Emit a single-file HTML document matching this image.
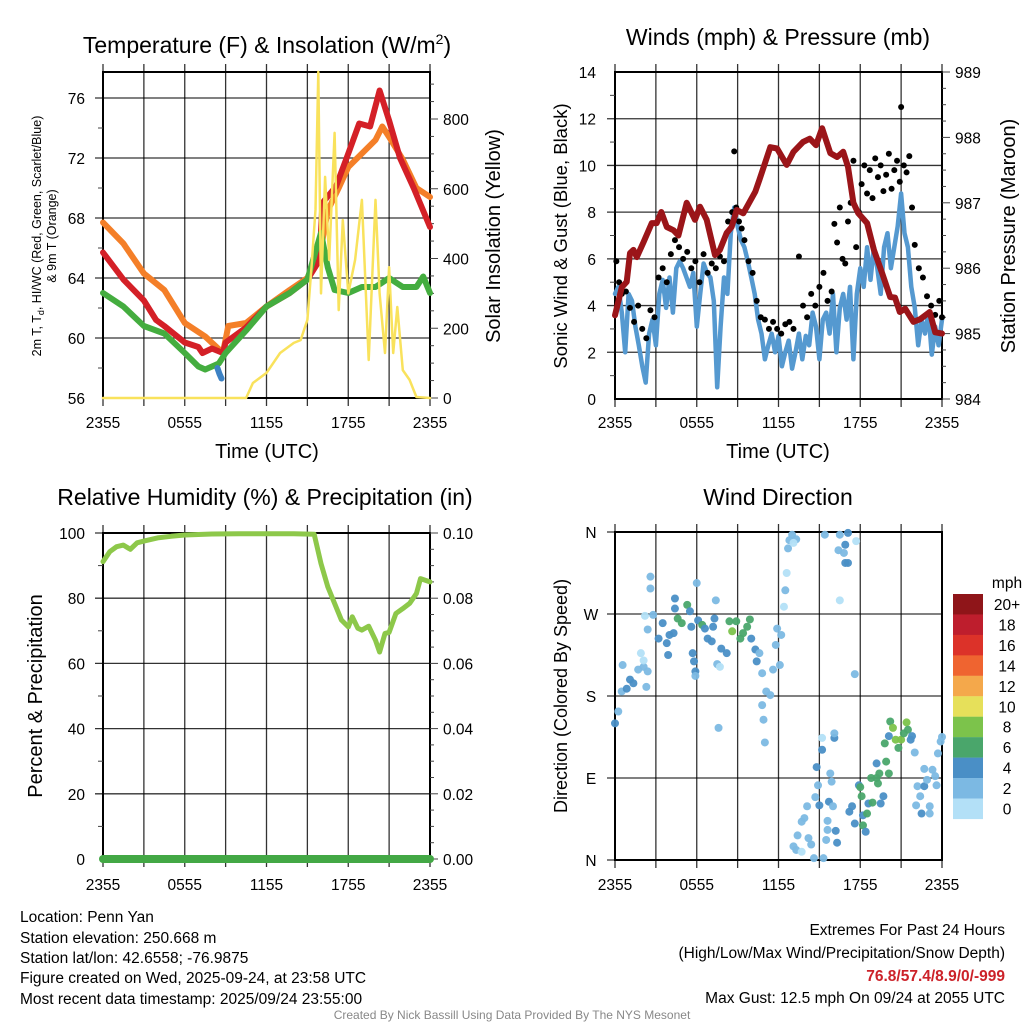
<!DOCTYPE html>
<html><head><meta charset="utf-8"><style>
html,body{margin:0;padding:0;background:#fff}
svg{display:block;font-family:"Liberation Sans",Arial,sans-serif}
</style></head><body>
<svg id="fig" width="1024" height="1024" viewBox="0 0 1024 1024" xmlns="http://www.w3.org/2000/svg">
<g id="layer"></g>
<text x="267" y="53" font-size="23" text-anchor="middle">Temperature (F) &amp; Insolation (W/m<tspan font-size="14" dy="-9">2</tspan><tspan dy="9">)</tspan></text>
<text x="778" y="45" font-size="23" text-anchor="middle">Winds (mph) &amp; Pressure (mb)</text>
<text x="265" y="505" font-size="23" text-anchor="middle">Relative Humidity (%) &amp; Precipitation (in)</text>
<text x="778" y="505" font-size="23" text-anchor="middle">Wind Direction</text>
<g font-size="12.5" text-anchor="middle">
<text transform="translate(41,236) rotate(-90)">2m T, T<tspan font-size="9" dy="3">d</tspan><tspan dy="-3">, HI/WC (Red, Green, Scarlet/Blue)</tspan></text>
<text transform="translate(56,236) rotate(-90)">&amp; 9m T (Orange)</text>
</g>
<text transform="translate(500,236) rotate(-90)" font-size="20" text-anchor="middle">Solar Insolation (Yellow)</text>
<text transform="translate(567,236) rotate(-90)" font-size="18.5" text-anchor="middle">Sonic Wind &amp; Gust (Blue, Black)</text>
<text transform="translate(1015,236) rotate(-90)" font-size="20" text-anchor="middle">Station Pressure (Maroon)</text>
<text transform="translate(42,696) rotate(-90)" font-size="20" text-anchor="middle">Percent &amp; Precipitation</text>
<text transform="translate(567,696) rotate(-90)" font-size="18" text-anchor="middle">Direction (Colored By Speed)</text>
<text x="267" y="458" font-size="20" text-anchor="middle">Time (UTC)</text>
<text x="778" y="458" font-size="20" text-anchor="middle">Time (UTC)</text>
<g font-size="15.5">
<text x="20" y="922">Location: Penn Yan</text>
<text x="20" y="943">Station elevation: 250.668 m</text>
<text x="20" y="963">Station lat/lon: 42.6558; -76.9875</text>
<text x="20" y="983">Figure created on Wed, 2025-09-24, at 23:58 UTC</text>
<text x="20" y="1004">Most recent data timestamp: 2025/09/24 23:55:00</text>
</g>
<g font-size="15.5" text-anchor="end">
<text x="1005" y="935">Extremes For Past 24 Hours</text>
<text x="1005" y="958">(High/Low/Max Wind/Precipitation/Snow Depth)</text>
<text x="1005" y="981" fill="#cc2229" font-weight="bold">76.8/57.4/8.9/0/-999</text>
<text x="1005" y="1003">Max Gust: 12.5 mph On 09/24 at 2055 UTC</text>
</g>
<text x="512" y="1019" font-size="12" fill="#888" text-anchor="middle">Created By Nick Bassill Using Data Provided By The NYS Mesonet</text>
</svg>
<script>
// ---- data ----
const xTickLabels = ["2355","0555","1155","1755","2355"];
const tempT = [0,1.5,3,3.9,4.5,6,7,7.3,8,8.8,9,10.5,12,13.7,15,15.9,16.1,17.1,18,18.8,19.6,20.3,21,21.8,22.8,24];
const tempV = [65.7,63.9,62.5,61.2,60.8,59.7,59.4,59,59.3,59,59.7,60.7,62.1,63,63.9,65.2,69,70.1,72.3,74.3,74.1,76.5,74.5,72,70,67.4];
const t9T = [0,1.5,3,4.5,6,7.5,8.8,9.2,10.5,12,13.7,15,16,16.5,17.3,18,19,20,20.5,21,22,23,24];
const t9V = [67.7,66.3,64.3,63.2,61,60.1,59,60.8,61,62.1,63.2,64,66,68.5,70,71.4,72.3,73.2,74.1,73.4,71.9,70,69.4];
const tdT = [0,1.5,3,4.5,6,7,7.5,8.5,9,10.5,12,13.7,15,16,16.5,17,18,19,20,21,22,23,23.5,24];
const tdV = [63,62.1,60.8,60.3,59,58.1,57.9,58.3,59,60.5,62.1,63,63.9,67,64.7,63.2,63,63.4,63.4,64,63.4,63.4,64.1,63];
const wcT = [8.4,8.55,8.7];
const wcV = [58,57.6,57.3];
const solT = [0,10.5,11,12,13,14,14.5,15,15.3,15.6,15.8,16,16.3,16.6,17,17.3,17.6,18,18.5,19,19.5,20,20.3,20.7,21,21.3,21.6,22,22.5,23,24];
const solV = [0,0,43,72,129,158,166,224,375,540,935,300,634,396,760,252,510,300,396,568,109,568,300,129,375,129,261,80,52,3,0];
const tempTicks = [56,60,64,68,72,76];
const solTicks = [0,200,400,600,800];
const presT = [0,0.5,0.86,1.1,1.35,1.6,2.1,2.7,3.06,3.4,3.8,4.3,4.65,5.26,5.87,6.24,6.73,7.34,7.7,8.2,8.56,8.93,9.42,10.3,10.6,11.4,11.9,12.6,13.1,13.8,14.3,14.75,15.2,15.8,16.3,16.75,17.1,17.5,17.86,18.5,19,19.6,20.2,20.55,20.9,21.3,21.9,22.4,23.1,23.5,24];
const presV = [985.28,985.71,985.79,986.23,986.28,986.17,986.4,986.69,986.69,986.86,986.63,986.58,986.5,987.0,986.74,986.94,986.74,986.2,986.28,986.54,986.63,986.89,986.84,987.17,987.35,987.85,987.83,987.58,987.78,987.93,987.98,987.88,988.14,987.76,987.7,987.78,987.55,987.0,986.84,986.69,986.28,985.93,985.56,985.55,985.33,985.38,985.18,985.22,985.33,985.02,985.0];
const windV = [4.5,4.8,3.7,2.0,4.5,4.2,3.1,2.3,1.4,0.7,2.8,3.4,2.3,4.5,5.1,3.9,5.2,3.7,5.6,5.9,5.6,5.2,4.8,5.4,3.1,4.5,5.8,5.4,5.2,4.2,0.5,3.1,5.2,4.5,7.1,8.2,7.4,6.8,6.5,5.9,5.2,4.5,3.4,2.8,1.7,2.3,2.8,2.0,2.7,1.4,2.0,2.5,1.3,2.0,2.8,1.7,2.7,2.3,3.7,3.1,1.7,3.4,3.7,2.8,4.5,2.0,3.9,4.5,3.4,4.8,1.7,4.5,5.6,4.8,6.5,5.1,6.5,5.6,4.5,6.5,7.1,5.6,6.5,7.4,8.8,7.1,6.5,4.8,3.9,2.3,3.4,2.8,3.7,1.9,3.1,2.3,3.4];
const gustT = [0.1,0.3,0.5,0.8,1.1,1.4,1.7,2.0,2.3,2.6,2.9,3.2,3.5,3.8,4.1,4.4,4.7,5.0,5.3,5.6,5.9,6.2,6.5,6.8,7.1,7.4,7.7,8.0,8.3,8.6,8.75,8.9,9.1,9.3,9.5,9.8,10.1,10.4,10.7,11.0,11.3,11.6,11.9,12.2,12.5,12.8,13.1,13.5,13.8,14.1,14.4,14.7,15.0,15.3,15.6,15.9,16.1,16.3,16.5,16.7,16.9,17.1,17.3,17.5,17.7,17.9,18.1,18.3,18.5,18.7,18.9,19.1,19.3,19.5,19.7,19.9,20.1,20.3,20.5,20.7,20.9,21.0,21.2,21.4,21.6,21.8,22.0,22.3,22.6,22.9,23.2,23.5,23.8,24.0];
const gustV = [5.9,5.0,4.5,4.6,3.9,3.3,4.0,3.0,2.6,3.8,3.5,5.2,5.6,5.0,6.2,6.8,6.5,6.0,6.3,5.6,5.9,5.0,6.2,5.4,5.8,5.6,6.1,5.9,7.6,8.0,10.6,8.2,7.6,7.3,6.8,5.9,5.4,4.2,3.5,3.4,3.0,3.3,3.0,2.8,3.2,3.3,3.0,6.1,4.0,3.5,4.5,4.0,4.8,5.4,4.2,4.6,7.5,6.7,8.2,6.0,5.8,7.6,8.4,10.2,6.5,8.0,9.2,10.0,8.8,9.8,8.6,10.3,9.5,10.0,8.9,9.6,10.5,9.0,9.8,10.2,9.3,12.5,10.0,9.7,10.4,8.2,6.6,5.6,5.2,4.4,4.0,3.6,4.2,3.5];
const windTicks = [0,2,4,6,8,10,12,14];
const presTicks = [984,985,986,987,988,989];
const rhT = [0,0.5,1,1.5,2,2.5,3,4,5,6,8,10,12,14,15.5,16,16.5,17,17.5,18,18.3,18.7,19,19.5,20,20.3,20.7,21,21.5,22,22.5,23,23.3,24];
const rhV = [91.2,94.3,95.8,96.3,95,97,97.5,98.5,99,99.4,99.7,99.8,99.8,99.8,99.6,90.6,83.5,78.4,73.3,71.2,74.3,70.8,70.2,71.4,67.1,63.5,69.2,69.5,75.3,76.8,78.4,81.4,86,85];
const precipT = [0,24];
const precipV = [0,0];
const rhTicks = [0,20,40,60,80,100];
const precipTicks = ["0.00","0.02","0.04","0.06","0.08","0.10"];
const dirT = [0,0.24,0.49,0.86,1.1,1.35,0.56,1.7,2.1,1.9,2.1,2.3,2.4,2.6,2.6,2.2,2.4,2.8,3.2,3.5,3.8,3.9,4.0,4.3,4.4,4.4,4.6,4.9,5.3,5.5,5.6,5.7,5.8,5.9,5.9,6.0,6.1,6.4,6.6,6.8,7.1,7.2,7.3,7.4,7.5,7.7,7.6,7.8,8.2,8.4,8.6,8.9,9.2,9.4,9.7,9.9,10.0,10.3,10.4,10.6,10.8,10.8,11.1,11.4,10.9,11.0,11.6,12.1,11.9,12.2,11.8,12.4,12.5,12.6,12.7,12.8,13.0,13.3,13.1,15.4,16.5,17.1,17.7,16.4,16.8,16.9,16.9,17.1,16.5,17.6,13.1,13.3,13.7,13.4,13.7,13.9,14.1,14.2,14.4,14.6,14.7,14.8,14.9,15.0,15.2,15.2,15.3,15.5,15.6,15.6,15.7,15.8,15.9,16.0,16.1,16.1,16.2,16.3,17.2,17.4,17.6,17.9,18.0,18.1,18.2,18.2,18.4,18.5,18.6,18.9,18.8,19.2,19.3,19.2,19.4,19.5,19.7,19.8,19.9,20.1,20.1,20.2,20.4,20.6,20.8,21.0,21.2,21.4,21.5,21.7,21.8,22.0,22.1,22.4,22.2,22.5,22.7,22.7,22.9,23.1,23.1,23.3,23.5,23.6,23.7,23.9,24.0];
const dirD = [150,163,185,188,198,194,214,209,212,227,219,190,207,311,298,268,253,269,243,260,238,225,247,249,287,276,265,260,280,273,256,227,218,207,202,304,263,258,254,243,240,256,265,285,215,212,145,232,227,262,251,262,243,249,256,264,243,231,218,227,205,170,185,181,154,129,209,214,254,247,236,278,296,315,342,351,357,352,348,357,357,359,350,340,337,346,326,326,285,204,15,11,9,27,42,46,59,24,17,2,69,102,82,60,121,134,2,22,33,43,64,95,86,59,134,139,32,19,53,59,40,82,80,70,38,49,31,51,62,63,90,90,84,106,95,62,70,128,108,95,136,152,145,132,123,132,139,151,143,132,136,118,60,70,81,51,81,100,88,59,51,99,92,82,117,130,135];
const dirS = [4,2,2,4,4,4,2,2,2,0,0,2,2,2,2,0,2,2,4,4,4,4,4,4,4,4,6,6,6,4,4,4,4,4,2,2,4,6,4,4,4,4,4,2,2,0,2,4,4,6,8,6,6,6,6,6,4,4,4,2,2,2,2,2,2,2,2,2,2,2,2,0,2,0,2,2,2,2,0,2,2,4,0,2,2,4,4,4,0,2,2,2,0,2,2,2,2,2,2,2,2,4,2,4,4,0,2,2,2,2,4,2,2,2,4,2,4,4,4,4,4,4,6,6,6,4,4,6,4,6,6,6,6,4,6,4,4,6,6,6,4,6,8,8,6,8,6,8,6,4,4,2,2,2,2,4,4,2,2,2,2,2,2,2,2,2,2];
const dirLabels = ["N","E","S","W","N"];
const cbLabels = ["20+","18","16","14","12","10","8","6","4","2","0"];
const cbColors = ["#8f1519","#be1e2d","#dc3229","#ef6430","#f4a84b","#e6e05a","#7cc34b","#4aa66b","#4a8fc6","#7cb9e3","#b3e0f7"];

// ---- drawing ----
const NS = "http://www.w3.org/2000/svg";
const layer = document.getElementById('layer');
function mk(tag, attrs, parent){ const e=document.createElementNS(NS,tag); for(const k in attrs) e.setAttribute(k,attrs[k]); (parent||layer).appendChild(e); return e; }
function panel(L,R,T,B){ return {L,R,T,B,x:t=>L+t*(R-L)/24}; }
function lin(d0,d1,p0,p1){ return v=>p0+(v-d0)*(p1-p0)/(d1-d0); }
function pathD(ts,vs,X,Y){ return ts.map((t,i)=>(i?'L':'M')+X(t).toFixed(1)+' '+Y(vs[i]).toFixed(1)).join(' '); }
function grid(p, hYs, name){
  const g=mk('g',{stroke:'#000','stroke-width':1.3,'stroke-opacity':0.8});
  
  
  for(let i=0;i<=8;i++){ const x=p.x(i*3); mk('line',{x1:x,x2:x,y1:p.T-8,y2:p.B+8},g); }
  hYs.forEach(y=>mk('line',{x1:p.L-8,x2:p.R,y1:y,y2:y},g));
  const fr=mk('rect',{x:p.L,y:p.T,width:p.R-p.L,height:p.B-p.T,fill:'none',stroke:'#000','stroke-width':2});
  
  
}
function xLabels(p,y,name){
  xTickLabels.forEach((s,i)=>{ const e=mk('text',{x:p.x(i*6),y:y,'font-size':15.5,'text-anchor':'middle'}); e.textContent=s;
    
     });
}
function minorTicks(x0,dir,ys,len){ ys.forEach(y=>mk('line',{x1:x0,x2:x0+dir*len,y1:y,y2:y,stroke:'#444','stroke-width':1})); }
function line(ts,vs,X,Y,color,w,name){
  const e=mk('path',{d:pathD(ts,vs,X,Y),fill:'none',stroke:color,'stroke-width':w,'stroke-linejoin':'round','stroke-linecap':'round'});
  
  
  return e;
}

// Panel 1
const p1=panel(103,430,72,398);
const yT=lin(56,76,398,98), yS=lin(0,800,398,119);
grid(p1, tempTicks.slice(1).map(yT), 'temperature');
for(let v=58;v<78;v+=4) minorTicks(p1.L,-1,[yT(v)],5);
for(let v=0;v<=900;v+=50) minorTicks(p1.R,1,[yS(v)], v%200===0?8:4);
tempTicks.forEach(v=>{ const e=mk('text',{x:85,y:yT(v)+6,'font-size':15.5,'text-anchor':'end'}); e.textContent=v;
    });
solTicks.forEach(v=>{ const e=mk('text',{x:443,y:yS(v)+6,'font-size':15.5}); e.textContent=v;
    });
line(t9T,t9V,p1.x,yT,'#f47f28',6,'orange-9m-temp-line');
line(tempT,tempV,p1.x,yT,'#d42027',6,'red-2m-temp-line');
line(tdT,tdV,p1.x,yT,'#44ad3f',6,'green-dewpoint-line');
line(wcT,wcV,p1.x,yT,'#3d82c4',6,'blue-windchill-line');
line(solT,solV,p1.x,yS,'#f9e25c',2.5,'yellow-insolation-line');
xLabels(p1,428,'temperature');

// Panel 2
const p2=panel(615,942,72,399);
const yW=lin(0,14,399,72), yP=lin(984,989,399,72);
grid(p2, windTicks.slice(1,-1).map(yW), 'winds');
for(let v=1;v<14;v+=2) minorTicks(p2.L,-1,[yW(v)],5);
for(let v=984;v<=989.001;v+=0.25) minorTicks(p2.R,1,[yP(v)], Math.abs(v-Math.round(v))<0.01?8:4);
windTicks.forEach(v=>{ const e=mk('text',{x:596,y:yW(v)+6,'font-size':15.5,'text-anchor':'end'}); e.textContent=v;
    });
presTicks.forEach(v=>{ const e=mk('text',{x:955,y:yP(v)+6,'font-size':15.5}); e.textContent=v;
    });
const windT = windV.map((v,i)=>i*0.25);
line(windT,windV,p2.x,yW,'#5599d0',4.5,'sonic-wind-line');
gustT.forEach((t,i)=>{ const c=mk('circle',{cx:p2.x(t),cy:yW(gustV[i]),r:3,fill:'#000'});
    });
line(presT,presV,p2.x,yP,'#9b1519',6,'pressure-line');
xLabels(p2,428,'winds');

// Panel 3
const p3=panel(103,430,533,859);
const yR=lin(0,100,859,533), yPr=lin(0,0.1,859,533);
grid(p3, rhTicks.slice(1).map(yR), 'humidity');
for(let v=10;v<100;v+=20) minorTicks(p3.L,-1,[yR(v)],5);
for(let v=0;v<=100;v+=5) minorTicks(p3.R,1,[yR(v)], v%20===0?8:4);
rhTicks.forEach(v=>{ const e=mk('text',{x:85,y:yR(v)+6,'font-size':15.5,'text-anchor':'end'}); e.textContent=v;
    });
precipTicks.forEach((s,i)=>{ const e=mk('text',{x:443,y:yPr(parseFloat(s))+6,'font-size':15.5}); e.textContent=s;
    });
line(rhT,rhV,p3.x,yR,'#8dc84a',5,'relative-humidity-line');
line(precipT,precipV,p3.x,yPr,'#43a845',8,'precipitation-line');
xLabels(p3,890,'humidity');

// Panel 4
const p4=panel(615,942,532,860);
const yD=lin(0,360,860,532);
grid(p4, [0,90,180,270,360].map(yD), 'direction');
dirLabels.forEach((s,i)=>{ const e=mk('text',{x:591,y:yD(i*90)+6,'font-size':15.5,'text-anchor':'middle'}); e.textContent=s;
    });
const speedColor = s=>cbColors[10-Math.min(10,Math.floor(s/2))];
dirT.forEach((t,i)=>{ const c=mk('circle',{cx:p4.x(t),cy:yD(dirD[i]),r:4,fill:speedColor(dirS[i]),'fill-opacity':0.95});
    });
xLabels(p4,890,'direction');

// colorbar
const cb=mk('g',{});


const mph=mk('text',{x:1007,y:588,'font-size':15.5,'text-anchor':'middle'},cb); mph.textContent='mph';
cbLabels.forEach((s,i)=>{ const y=594+i*20.45;
  const r=mk('rect',{x:953,y:y,width:30,height:20.6,fill:cbColors[i]},cb);
   
  const t=mk('text',{x:1007,y:y+16,'font-size':15.5,'text-anchor':'middle'},cb); t.textContent=s;
    });
</script>
</body></html>
